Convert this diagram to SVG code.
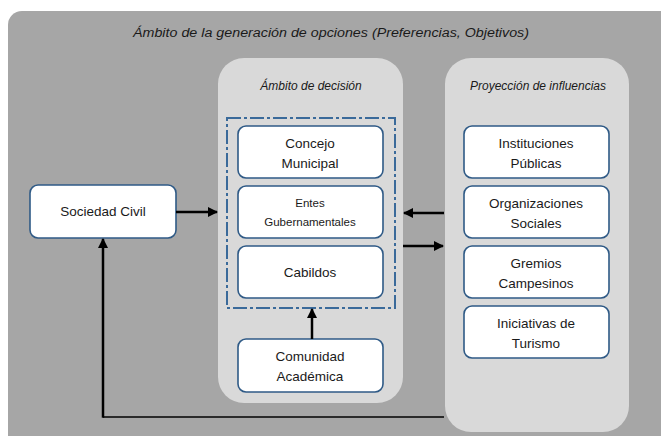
<svg xmlns="http://www.w3.org/2000/svg" width="661" height="436" viewBox="0 0 661 436">
<defs>
<marker id="ah" viewBox="0 0 10 10" refX="9" refY="5" markerWidth="4" markerHeight="4" orient="auto" markerUnits="strokeWidth"><path d="M0,0 L10,5 L0,10 z" fill="#000"/></marker>
<style>
.box{fill:#fff;stroke:#2f5a86;stroke-width:1.6}
.panel{fill:#d9d9d9}
.t{font-family:"Liberation Sans",Arial,sans-serif;font-size:13.5px;fill:#1a1a1a;text-anchor:middle}
.s{font-size:11.5px}
.it{font-family:"Liberation Sans",Arial,sans-serif;font-style:italic;font-size:12px;fill:#1a1a1a;text-anchor:middle}
.c{stroke:#000;fill:none}
</style>
</defs>
<rect x="0" y="0" width="661" height="436" fill="#fff"/>
<g id="outer">
<rect x="8" y="11" width="670" height="440" rx="14" fill="#a6a6a6"/>
<text class="it" x="331" y="37" font-size="13" textLength="396" lengthAdjust="spacingAndGlyphs">Ámbito de la generación de opciones (Preferencias, Objetivos)</text>
</g>
<g id="decision-panel">
<rect class="panel" x="218" y="58" width="185" height="345" rx="26"/>
<text class="it" x="311" y="90">Ámbito de decisión</text>
<rect x="227" y="118" width="168" height="190" fill="none" stroke="#3a6a9a" stroke-width="2" stroke-dasharray="14,3,3,3"/>
</g>
<g id="influence-panel">
<rect class="panel" x="445" y="58" width="184" height="374" rx="26"/>
<text class="it" x="538" y="90" font-size="11.5">Proyección de influencias</text>
</g>
<g id="sociedad-civil">
<rect class="box" x="30" y="185" width="146" height="53" rx="8"/>
<text class="t" x="103" y="216">Sociedad Civil</text>
</g>
<g id="concejo">
<rect class="box" x="238" y="126" width="145" height="52" rx="8"/>
<text class="t" x="310" y="148">Concejo</text>
<text class="t" x="310" y="168">Municipal</text>
</g>
<g id="entes">
<rect class="box" x="238" y="186" width="145" height="52" rx="8"/>
<text class="t s" x="310" y="207">Entes</text>
<text class="t s" x="310" y="226">Gubernamentales</text>
</g>
<g id="cabildos">
<rect class="box" x="238" y="246" width="145" height="52" rx="8"/>
<text class="t" x="310" y="277">Cabildos</text>
</g>
<g id="comunidad">
<rect class="box" x="238" y="339" width="145" height="53" rx="8"/>
<text class="t" x="310" y="361">Comunidad</text>
<text class="t" x="310" y="381">Académica</text>
</g>
<g id="instituciones">
<rect class="box" x="464" y="126" width="145" height="52" rx="8"/>
<text class="t" x="536" y="148">Instituciones</text>
<text class="t" x="536" y="168">Públicas</text>
</g>
<g id="organizaciones">
<rect class="box" x="464" y="186" width="145" height="52" rx="8"/>
<text class="t" x="536" y="208">Organizaciones</text>
<text class="t" x="536" y="228">Sociales</text>
</g>
<g id="gremios">
<rect class="box" x="464" y="246" width="145" height="52" rx="8"/>
<text class="t" x="536" y="268">Gremios</text>
<text class="t" x="536" y="288">Campesinos</text>
</g>
<g id="iniciativas">
<rect class="box" x="464" y="306" width="145" height="52" rx="8"/>
<text class="t" x="536" y="328">Iniciativas de</text>
<text class="t" x="536" y="348">Turismo</text>
</g>
<g id="connectors">
<line class="c" x1="176" y1="212" x2="217" y2="212" stroke-width="2.5" marker-end="url(#ah)"/>
<line class="c" x1="444" y1="213" x2="404" y2="213" stroke-width="2.5" marker-end="url(#ah)"/>
<line class="c" x1="403" y1="246" x2="443" y2="246" stroke-width="2.5" marker-end="url(#ah)"/>
<line class="c" x1="312" y1="339" x2="312" y2="309" stroke-width="2.5" marker-end="url(#ah)"/>
<polyline class="c" points="444,417 103,417" stroke-width="1.5"/>
<line class="c" x1="103" y1="417.7" x2="103" y2="239" stroke-width="2.5" marker-end="url(#ah)"/>
</g>
</svg>
